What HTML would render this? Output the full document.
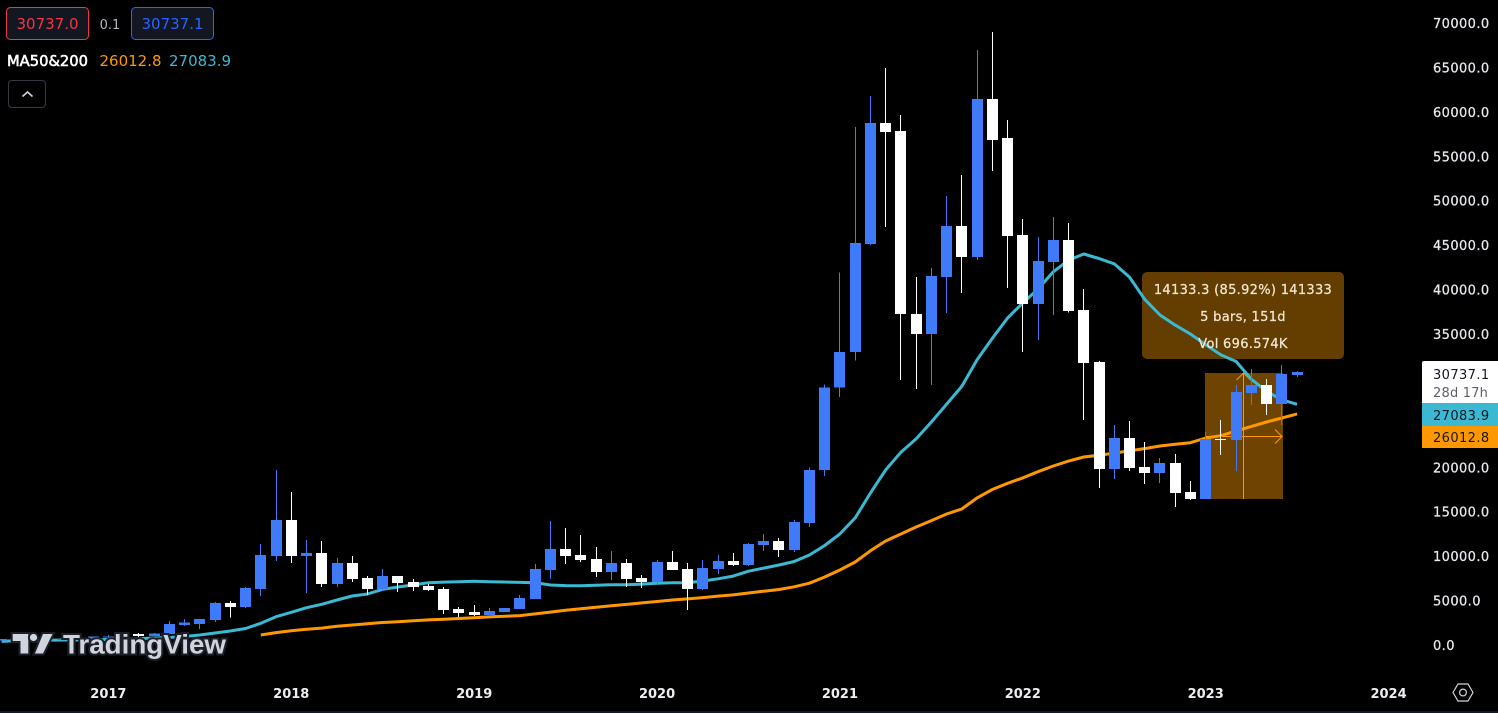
<!DOCTYPE html>
<html lang="en">
<head>
<meta charset="utf-8">
<title>BTC monthly chart</title>
<style>
html,body{margin:0;padding:0;background:#000;width:1498px;height:713px;overflow:hidden}
svg{display:block;position:absolute;left:0;top:0}
text{font-family:"DejaVu Sans","Liberation Sans",sans-serif}
</style>
</head>
<body>
<svg id="chart" width="1498" height="713" viewBox="0 0 1498 713" xmlns="http://www.w3.org/2000/svg">
  <rect x="0" y="0" width="1498" height="713" fill="#000"/>
  <rect x="0" y="711" width="1498" height="2" fill="#131722"/>
  <g id="measure">
    <rect x="1205" y="373" width="78" height="126" fill="#6f4400"/>
    <rect x="1142" y="272" width="202" height="87" rx="5" fill="#633e00"/>
    <line x1="1243.5" y1="373" x2="1243.5" y2="499" stroke="#ff9800" stroke-width="1"/>
    <polyline points="1236.5,380 1243.5,373 1250.5,380" fill="none" stroke="#ff9800" stroke-width="1"/>
    <line x1="1205" y1="436.5" x2="1282" y2="436.5" stroke="#ff9800" stroke-width="1"/>
    <polyline points="1275,429.5 1282,436.5 1275,443.5" fill="none" stroke="#ff9800" stroke-width="1"/>
  </g>
  <g id="lines"></g>
  <g id="candles"></g>
  <g font-size="13" fill="#f0e6d2" stroke="#f0e6d2" stroke-width="0.25" letter-spacing="0.3" text-anchor="middle">
    <text x="1243" y="294">14133.3 (85.92%) 141333</text>
    <text x="1243" y="321">5 bars, 151d</text>
    <text x="1243" y="348">Vol 696.574K</text>
  </g>
  <g id="yaxis"></g>
  <g id="xaxis"></g>

  <g>
    <path d="M1424 361H1498V403H1422V363a2 2 0 0 1 2-2z" fill="#fff"/>
    <text x="1433" y="379" font-size="13" letter-spacing="0.4" fill="#131722">30737.1</text>
    <text x="1433" y="397" font-size="13" letter-spacing="0.2" fill="#5d606b">28d 17h</text>
  </g>
  <g>
    <rect x="1422" y="403" width="76" height="23" fill="#3bb9d3"/>
    <text x="1433" y="420" font-size="13" letter-spacing="0.4" fill="#131722">27083.9</text>
  </g>
  <g>
    <rect x="1422" y="426" width="76" height="22" fill="#ff9800"/>
    <text x="1433" y="442" font-size="13" letter-spacing="0.4" fill="#131722">26012.8</text>
  </g>

  <g>
    <rect x="6.5" y="7.5" width="82" height="32" rx="4" fill="#131722" stroke="#f23645"/>
    <text x="47.5" y="29" text-anchor="middle" font-size="15" fill="#f23645">30737.0</text>
  </g>
  <text x="110" y="29" text-anchor="middle" font-size="13" fill="#b2b5be">0.1</text>
  <g>
    <rect x="131.5" y="7.5" width="82" height="32" rx="4" fill="#131722" stroke="#2962ff"/>
    <text x="172.5" y="29" text-anchor="middle" font-size="15" fill="#2962ff">30737.1</text>
  </g>
  <text x="7" y="66" font-size="15" fill="#fff" stroke="#fff" stroke-width="0.6" textLength="81" lengthAdjust="spacingAndGlyphs">MA50&amp;200</text>
  <text x="99.5" y="66" font-size="15" fill="#ff9800">26012.8</text>
  <text x="169" y="66" font-size="15" fill="#3bb9d3">27083.9</text>
  <g>
    <rect x="8.5" y="80.5" width="37" height="27" rx="3.5" fill="#000" stroke="#363a45"/>
    <polyline points="22.5,96.5 27.5,92 32.5,96.5" fill="none" stroke="#d1d4dc" stroke-width="1.6"/>
  </g>

  <g>
    <g fill="#d1d4dc" stroke="#1c202b" stroke-width="4" paint-order="stroke">
      <path d="M12.7 634H28.3V653.5H20.5V641H12.7z"/>
      <circle cx="33.5" cy="637.5" r="3.6"/>
      <path d="M43 634H52.5L43 653.5H35z"/>
    </g>
    <text x="63" y="653.5" font-size="27" font-weight="700" fill="#d1d4dc" stroke="#1c202b" stroke-width="4" paint-order="stroke" textLength="163" lengthAdjust="spacingAndGlyphs" style="font-family:'Liberation Sans',sans-serif">TradingView</text>
  </g>

  <g fill="none" stroke="#d1d4dc" stroke-width="1.2">
    <path d="M1458 684H1468L1473 692.5L1468 701H1458L1453 692.5z"/>
    <circle cx="1463" cy="692.5" r="3.4"/>
  </g>
</svg>
<script>
const categories = [
"2016-06","2016-07","2016-08","2016-09","2016-10","2016-11","2016-12",
"2017-01","2017-02","2017-03","2017-04","2017-05","2017-06","2017-07","2017-08","2017-09","2017-10","2017-11","2017-12",
"2018-01","2018-02","2018-03","2018-04","2018-05","2018-06","2018-07","2018-08","2018-09","2018-10","2018-11","2018-12",
"2019-01","2019-02","2019-03","2019-04","2019-05","2019-06","2019-07","2019-08","2019-09","2019-10","2019-11","2019-12",
"2020-01","2020-02","2020-03","2020-04","2020-05","2020-06","2020-07","2020-08","2020-09","2020-10","2020-11","2020-12",
"2021-01","2021-02","2021-03","2021-04","2021-05","2021-06","2021-07","2021-08","2021-09","2021-10","2021-11","2021-12",
"2022-01","2022-02","2022-03","2022-04","2022-05","2022-06","2022-07","2022-08","2022-09","2022-10","2022-11","2022-12",
"2023-01","2023-02","2023-03","2023-04","2023-05","2023-06","2023-07"];
const opens = [530,670,620,570,605,700,745,
963,970,1238,1013,1238,2250,2363,2813,4726,4276,6302,10015,
14066,10015,10353,6864,9227,7540,6302,7765,7089,6639,6302,4051,
3714,3376,3714,4051,5176,8440,10803,10128,9677,8215,9227,7540,
7089,9340,8552,6302,8552,9452,9002,11253,11703,10690,13729,19700,
29000,33000,45125,58741,57841,37248,34997,41411,47151,43662,61442,57052,
46138,38372,43099,45575,37698,31846,19805,23293,20030,19355,20480,17217,
16429,23181,23069,28358,29258,27120,30384];
const highs = [700,700,620,630,720,750,980,
1150,1200,1350,1350,2700,2926,2926,4839,4951,6527,11366,19693,
17218,11816,11703,9790,10015,7765,8552,7765,7427,6864,6527,4276,
4501,4164,4164,5627,9115,13954,13166,12378,11028,10578,9677,7877,
9565,10578,9227,9565,10128,10353,11478,12491,12041,14066,20000,29300,
41900,58300,61780,64931,59641,41411,42424,50527,52889,66955,68980,59079,
47938,45913,48163,47488,40061,31958,24757,25207,22844,21043,21493,18455,
23969,25319,29258,31058,29933,31508,30834];
const lows = [450,600,480,570,600,690,740,
750,920,890,1000,1238,2138,1800,2588,3076,4164,5514,9453,
9228,5852,6527,6527,7089,5627,6077,5964,6077,6077,3488,3151,
3263,3376,3714,4051,5176,7427,9115,9340,7652,7315,6527,6414,
6864,8440,3939,6189,7990,8890,8890,10578,9902,10465,13279,19000,
27900,32000,45013,47038,29820,28808,29258,37360,39610,43324,53339,40174,
32972,34322,37135,37400,25319,17667,18680,19580,18117,18230,15529,16317,
16429,21380,19580,27007,25882,24757,30159];
const closes = [670,620,570,605,700,745,963,
970,1190,1013,1313,2363,2513,2926,4726,4276,6414,10128,14066,
10015,10353,6864,9227,7427,6302,7765,6977,6527,6189,3939,3601,
3376,3826,4164,5289,8552,10803,10015,9565,8215,9227,7427,7089,
9340,8440,6302,8665,9452,9002,11366,11703,10690,13841,19700,29000,
33000,45240,58741,57728,37248,34997,41524,47151,43662,61442,56827,46025,
38372,43212,45575,37585,31733,19805,23293,19917,19355,20480,17105,16429,
23181,23069,28470,29258,27120,30496,30737];
const ma200Values = [394,506,506,530,563,563,600,
619,675,709,788,844,957,1125,1350,1575,1857,2442,3185,
3680,4198,4580,5064,5514,5739,6268,6527,6752,7011,7080,7123,
7168,7123,7090,7050,7011,6752,6680,6677,6730,6770,6790,6850,
6960,7015,7015,7202,7450,7750,8300,8650,9000,9400,10128,11200,
12500,14300,17100,19700,21700,23200,25100,27100,29100,32100,34500,36800,
38500,40050,42000,43300,44000,43500,42900,41400,38900,37140,36000,35000,
33800,32650,31900,29900,28550,27600,27084];
const ma50Values = [null,null,null,null,null,null,null,
null,null,null,null,null,null,null,null,null,null,1125,1400,
1600,1770,1900,2100,2250,2400,2530,2620,2720,2820,2900,2980,
3060,3160,3230,3310,3500,3700,3900,4080,4250,4420,4570,4740,
4900,5060,5190,5340,5500,5640,5850,6050,6250,6550,6950,7650,
8440,9340,10600,11700,12490,13280,14000,14740,15300,16550,17500,18200,
18800,19500,20150,20700,21160,21350,21600,21850,22100,22400,22600,22770,
23300,23560,24100,24600,25100,25550,26013];
const priceTicks = [70000,65000,60000,55000,50000,45000,40000,35000,20000,15000,10000,5000,0];
const yearTicks = [2017,2018,2019,2020,2021,2022,2023,2024];

const NS = "http://www.w3.org/2000/svg";
const UP_COLOR = "#3f7bf9";
const DOWN_COLOR = "#ffffff";

function xScale(index) {
  return 108.4 + 15.24 * (index - 7);
}
function yScale(value) {
  return 645 - value * 622 / 70000;
}
function yearIndex(year) {
  return (year - 2016) * 12 - 5;
}
function make(tag, attrs) {
  const el = document.createElementNS(NS, tag);
  for (const key in attrs) el.setAttribute(key, attrs[key]);
  return el;
}
function linePath(values) {
  let d = "";
  values.forEach(function (v, i) {
    if (v === null) return;
    d += (d ? "L" : "M") + xScale(i).toFixed(1) + " " + yScale(v).toFixed(1);
  });
  return d;
}

const linesGroup = document.getElementById("lines");
const ma200Line = make("path", {d: linePath(ma200Values), fill: "none", stroke: "#3bb9d3", "stroke-width": 3, "stroke-linejoin": "round"});


linesGroup.appendChild(ma200Line);
const ma50Line = make("path", {d: linePath(ma50Values), fill: "none", stroke: "#ff9800", "stroke-width": 3, "stroke-linejoin": "round"});


linesGroup.appendChild(ma50Line);

const candlesGroup = document.getElementById("candles");
categories.forEach(function (month, i) {
  const color = closes[i] >= opens[i] ? UP_COLOR : DOWN_COLOR;
  const cx = Math.floor(xScale(i));
  const g = make("g", {"shape-rendering": "crispEdges", fill: color});
  
  
  const wickTop = yScale(highs[i]);
  const wick = make("rect", {x: cx, y: wickTop, width: 1, height: Math.max(1, yScale(lows[i]) - wickTop)});
  
  
  g.appendChild(wick);
  const bodyTop = yScale(Math.max(opens[i], closes[i]));
  const body = make("rect", {x: cx - 5, y: bodyTop, width: 11, height: Math.max(1, yScale(Math.min(opens[i], closes[i])) - bodyTop)});
  
  
  g.appendChild(body);
  candlesGroup.appendChild(g);
});

const yAxis = document.getElementById("yaxis");
priceTicks.forEach(function (p) {
  const t = make("text", {x: 1433, y: yScale(p) + 5, "font-size": 13, "letter-spacing": 0.4, fill: "#e6e8ee", stroke: "#e6e8ee", "stroke-width": 0.25});
  
  
  t.textContent = p.toFixed(1);
  yAxis.appendChild(t);
});

const xAxis = document.getElementById("xaxis");
yearTicks.forEach(function (year) {
  const t = make("text", {x: xScale(yearIndex(year)), y: 698, "text-anchor": "middle", "font-size": 13, "font-weight": "bold", fill: "#eceef2"});
  
  
  t.textContent = String(year);
  xAxis.appendChild(t);
});
</script>
</body>
</html>
